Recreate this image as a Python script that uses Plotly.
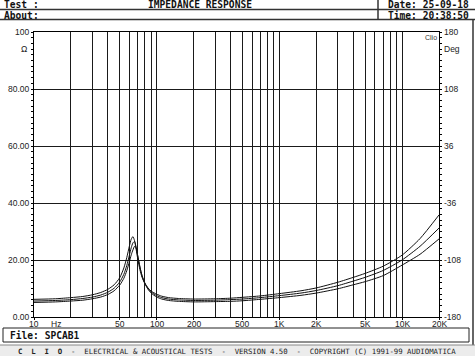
import math
import plotly.graph_objects as go

# ---------------- data ----------------
freq = [10, 15, 20, 25, 30, 35, 40, 45, 50, 54, 57, 60, 62, 64, 66, 68, 70, 73, 76, 80, 85, 90,
        100, 110, 125, 150, 200, 300, 400, 500, 700, 1000, 1500, 2000, 3000, 4000, 5000, 7000,
        10000, 14000, 20000]

imp_a = [6.2, 6.4, 6.8, 7.2, 7.8, 8.6, 9.7, 11.3, 13.8, 17.2, 20.8, 25.0, 27.3, 28.2, 26.8, 23.8,
         20.5, 16.6, 13.9, 11.8, 10.2, 9.1, 8.0, 7.3, 6.8, 6.5, 6.3, 6.4, 6.6, 6.9, 7.4, 8.2, 9.2,
         10.2, 12.2, 13.9, 15.3, 17.8, 21.7, 27.5, 35.8]
imp_b = [5.6, 5.8, 6.1, 6.5, 7.0, 7.7, 8.7, 10.1, 12.3, 15.0, 18.0, 21.8, 24.3, 26.0, 26.5, 24.5,
         21.5, 17.5, 14.5, 12.0, 10.0, 8.8, 7.5, 6.8, 6.3, 6.0, 5.8, 5.9, 6.1, 6.3, 6.8, 7.5, 8.4,
         9.3, 11.0, 12.6, 13.9, 16.3, 20.0, 24.8, 31.2]
imp_c = [5.1, 5.3, 5.6, 5.9, 6.4, 7.0, 7.9, 9.2, 11.2, 13.6, 16.2, 19.5, 21.8, 23.5, 24.8, 24.2,
         21.6, 17.6, 14.4, 11.8, 9.7, 8.4, 7.0, 6.3, 5.8, 5.5, 5.3, 5.4, 5.5, 5.7, 6.2, 6.8, 7.6,
         8.4, 9.9, 11.3, 12.4, 14.5, 18.2, 22.0, 27.4]

x_tick_vals = [10, 50, 100, 200, 500, 1000, 2000, 5000, 10000, 20000]
x_tick_text = ["10", "50", "100", "200", "500", "1K", "2K", "5K", "10K", "20K"]
grid_freqs = [m * d for d in (10, 100, 1000, 10000) for m in range(1, 10)] + [20000]
y_tick_vals = [0, 20, 40, 60, 80, 100]
y_tick_text = ["0.00", "20.00", "40.00", "60.00", "80.00", "100"]
phase_ticks = [180, 108, 36, -36, -108, -180]

# ---------------- geometry helpers ----------------
W, H = 475, 356
L, R, T, B = 34, 439, 32, 317
XMIN, XMAX = 1, math.log10(20000)


def px(x):
    return (x - L) / (R - L)


def py(y):
    return (B - y) / (B - T)


fig = go.Figure()
for s in (imp_a, imp_b, imp_c):
    fig.add_trace(go.Scatter(x=freq, y=s, mode="lines",
                             line=dict(color="#111111", width=1, shape="spline", smoothing=0.6),
                             hoverinfo="skip", showlegend=False))

tickfont = dict(family="Liberation Sans", size=8.5, color="#222222")
mono_b = "DejaVu Sans Mono"

fig.update_layout(
    width=W, height=H,
    margin=dict(l=L, r=W - R, t=T, b=H - B, autoexpand=False),
    paper_bgcolor="white", plot_bgcolor="white",
    showlegend=False,
    xaxis=dict(type="log", range=[XMIN, XMAX], tickvals=x_tick_vals, showticklabels=False,
               showgrid=True, gridcolor="#1a1a1a", gridwidth=1,
               minor=dict(tickvals=grid_freqs, showgrid=True, gridcolor="#1a1a1a", gridwidth=1,
                          ticks=""),
               showline=True, linecolor="black", linewidth=1, mirror=True,
               ticks="outside", ticklen=2, tickcolor="black", automargin=False,
               zeroline=False, fixedrange=True),
    yaxis=dict(range=[0, 100], tickvals=y_tick_vals, ticktext=y_tick_text,
               showgrid=True, gridcolor="#1a1a1a", gridwidth=1,
               minor=dict(dtick=2, ticks="outside", ticklen=2, tickcolor="black", showgrid=False),
               showline=True, linecolor="black", linewidth=1, mirror="ticks",
               ticks="outside", ticklen=2, tickcolor="black", automargin=False,
               tickfont=tickfont, zeroline=False, fixedrange=True),
)

ann = []
# x tick labels (placed just under the axis)
for v, t in zip(x_tick_vals, x_tick_text):
    xp = (math.log10(v) - XMIN) / (XMAX - XMIN)
    ann.append(dict(x=xp, y=py(323.5), xref="paper", yref="paper", text=t, showarrow=False,
                    xanchor="center", yanchor="middle", font=tickfont))
# right phase labels
for v in phase_ticks:
    yy = (v + 180) / 360
    ann.append(dict(x=px(442), y=yy, xref="paper", yref="paper", text=str(v), showarrow=False,
                    xanchor="left", yanchor="middle", font=tickfont))
ann.append(dict(x=px(24), y=py(49), xref="paper", yref="paper", text="Ω", showarrow=False,
                xanchor="center", yanchor="middle", font=tickfont))
ann.append(dict(x=px(452), y=py(49), xref="paper", yref="paper", text="Deg", showarrow=False,
                xanchor="center", yanchor="middle", font=tickfont))
ann.append(dict(x=px(56), y=py(323.5), xref="paper", yref="paper", text="Hz", showarrow=False,
                xanchor="center", yanchor="middle", font=tickfont))
ann.append(dict(x=px(423), y=py(37), xref="paper", yref="paper", text="Clio", showarrow=False,
                xanchor="left", yanchor="middle",
                font=dict(family="Liberation Sans", size=7, color="#333333")))

hdr = dict(family=mono_b, size=9.6, color="#111111")
for txt, x, y, anc in [("<b>Test :</b>", 2, 5, "left"),
                       ("<b>About:</b>", 2, 15, "left"),
                       ("<b>IMPEDANCE RESPONSE</b>", 200, 5, "center"),
                       ("<b>Date: 25-09-18</b>", 386, 5, "left"),
                       ("<b>Time: 20:38:50</b>", 386, 15, "left"),
                       ("<b>File: SPCAB1</b>", 8, 335, "left")]:
    ann.append(dict(x=px(x), y=py(y), xref="paper", yref="paper", text=txt, showarrow=False,
                    xanchor=anc, yanchor="middle", font=hdr))

footer_text = ("<b>C  L  I  O</b>  -  ELECTRICAL &amp; ACOUSTICAL TESTS  -  VERSION 4.50  -  "
               "COPYRIGHT (C) 1991-99 AUDIOMATICA")
ann.append(dict(x=px(16), y=py(351), xref="paper", yref="paper", text=footer_text.replace("  ", "&nbsp;&nbsp;"),
                showarrow=False, xanchor="left", yanchor="middle",
                font=dict(family=mono_b, size=7.35, color="#222222")))
fig.update_layout(annotations=ann)

shapes = []


def line(x0, y0, x1, y1, color="#222222", w=1):
    shapes.append(dict(type="line", xref="paper", yref="paper", x0=px(x0), y0=py(y0),
                       x1=px(x1), y1=py(y1), line=dict(color=color, width=w)))


def rect(x0, y0, x1, y1, color="#222222", w=1, fill="rgba(0,0,0,0)"):
    shapes.append(dict(type="rect", xref="paper", yref="paper", x0=px(x0), y0=py(y0),
                       x1=px(x1), y1=py(y1), line=dict(color=color, width=w), fillcolor=fill,
                       layer="below"))


rect(0, 345, 475, 356, color="rgba(0,0,0,0)", w=0, fill="#ececec")
line(0, 9.5, 475, 9.5, "#333333", 1.5)
line(0, 19.5, 475, 19.5, "#333333", 1.5)
line(378, 0, 378, 19.5, "#333333", 1.5)
line(473, 19.5, 473, 345, "#333333", 1.5)
rect(3, 328, 469, 342, color="#222222", w=1)
line(0, 345, 475, 345, "#888888", 1)
fig.update_layout(shapes=shapes)

fig.write_html("out.html", config={"displayModeBar": False},
               post_script="document.body.style.margin='0';document.body.style.padding='0';"
                           "document.body.style.overflow='hidden';")
